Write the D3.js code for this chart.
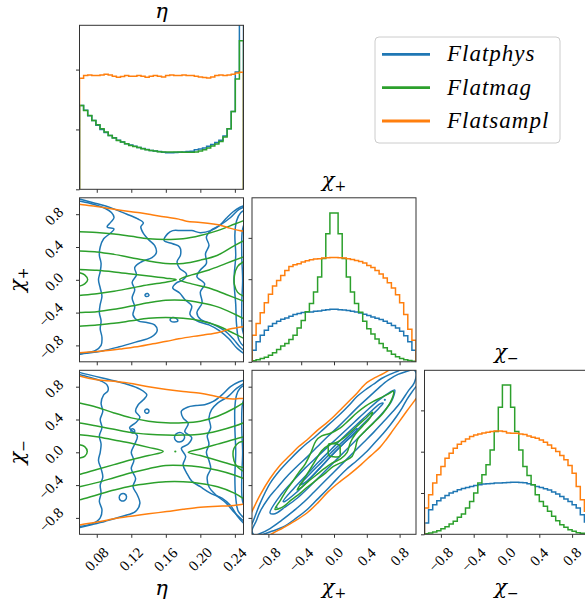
<!DOCTYPE html>
<html><head><meta charset="utf-8">
<script src="https://cdn.jsdelivr.net/npm/d3@7"></script>
<style>body{margin:0;background:#fff}svg{display:block}</style>
</head><body>
<svg id="c" width="585" height="605" xmlns="http://www.w3.org/2000/svg"></svg>
<script>
// ---------------- data ----------------
const seriesNames = ["Flatphys", "Flatmag", "Flatsampl"];
const seriesColors = ["#1f77b4", "#2ca02c", "#ff7f0e"];

const etaTicks = [0.08, 0.12, 0.16, 0.20, 0.24];
const etaTickLabels = ["0.08", "0.12", "0.16", "0.20", "0.24"];
const chiTicks = [-0.8, -0.4, 0.0, 0.4, 0.8];
const chiTickLabels = ["\u22120.8", "\u22120.4", "0.0", "0.4", "0.8"];
const etaHistTicks = [0, 1, 2];
const chiHistTicks = [0, 1, 2, 3];

// histograms (40 bins each)
const etaBlue = [1.40,1.32,1.23,1.15,1.07,1.00,0.95,0.90,0.86,0.82,0.79,0.76,0.74,0.72,0.70,0.68,0.665,0.65,0.64,0.63,
  0.618,0.612,0.612,0.615,0.62,0.625,0.63,0.635,0.66,0.672,0.69,0.72,0.75,0.78,0.82,0.89,1.01,1.30,1.96,3.30];
const etaGreen = [1.40,1.317,1.233,1.15,1.078,1.011,0.956,0.90,0.856,0.817,0.789,0.761,0.733,0.717,0.70,0.678,0.661,0.65,0.639,0.628,
  0.622,0.622,0.622,0.622,0.622,0.617,0.617,0.617,0.622,0.639,0.661,0.689,0.722,0.756,0.80,0.872,1.011,1.30,1.844,2.483];
const etaOrange = [1.856,1.90,1.911,1.90,1.90,1.911,1.922,1.911,1.889,1.872,1.883,1.90,1.889,1.889,1.90,1.889,1.872,1.889,1.90,1.889,
  1.878,1.90,1.911,1.90,1.90,1.911,1.90,1.90,1.889,1.878,1.867,1.861,1.878,1.90,1.911,1.90,1.911,1.922,1.944,1.956];

const chiPBlue = [0.282,0.483,0.644,0.764,0.861,0.925,0.981,1.03,1.062,1.102,1.142,1.167,1.191,1.207,1.207,1.223,1.231,1.247,1.263,1.271,
  1.271,1.263,1.255,1.239,1.223,1.207,1.183,1.15,1.118,1.086,1.054,1.022,0.981,0.933,0.877,0.82,0.74,0.628,0.483,0.282];
const chiPGreen = [0.025,0.05,0.08,0.11,0.16,0.22,0.30,0.38,0.44,0.54,0.64,0.82,1.0,1.21,1.41,1.69,2.05,2.5,3.1,3.6,
  3.6,3.1,2.5,2.05,1.69,1.41,1.2,0.98,0.8,0.67,0.55,0.44,0.34,0.26,0.18,0.12,0.08,0.05,0.03,0.015];
const chiPOrange = [0.644,0.925,1.19,1.432,1.633,1.834,1.971,2.092,2.212,2.309,2.349,2.373,2.414,2.446,2.47,2.486,2.494,2.51,2.518,2.526,
  2.526,2.518,2.51,2.494,2.478,2.454,2.43,2.389,2.333,2.285,2.212,2.124,2.027,1.915,1.786,1.625,1.432,1.142,0.788,0.523];

const chiMBlue = [0.274,0.595,0.716,0.813,0.877,0.941,0.998,1.038,1.078,1.11,1.134,1.158,1.183,1.199,1.215,1.223,1.231,1.239,1.239,1.247,
  1.255,1.263,1.263,1.255,1.247,1.223,1.199,1.158,1.134,1.102,1.07,1.022,0.973,0.917,0.853,0.796,0.716,0.636,0.475,0.298];
const chiMGreen = [0.016,0.032,0.056,0.088,0.137,0.185,0.249,0.314,0.41,0.491,0.636,0.796,0.998,1.239,1.44,1.681,2.043,2.486,3.073,3.612,
  3.612,3.073,2.486,2.043,1.641,1.424,1.199,0.957,0.796,0.676,0.555,0.434,0.33,0.233,0.169,0.113,0.072,0.04,0.024,0.008];
const chiMOrange = [0.636,0.957,1.239,1.44,1.641,1.842,1.963,2.084,2.18,2.245,2.309,2.365,2.405,2.43,2.454,2.47,2.486,2.502,2.502,2.486,
  2.454,2.446,2.446,2.43,2.414,2.381,2.349,2.325,2.285,2.228,2.164,2.084,2.003,1.907,1.802,1.665,1.48,1.158,0.837,0.555];

// contour lines, (eta, chi+) panel
const orangeEtaChiP = [
  [[0.055,0.935],[0.06,0.92],[0.08,0.895],[0.10,0.86],[0.12,0.83],[0.13,0.817],[0.145,0.79],[0.16,0.765],[0.175,0.74],[0.184,0.715],[0.20,0.70],[0.215,0.68],[0.225,0.66],[0.234,0.63],[0.245,0.60],[0.255,0.585]],
  [[0.055,-0.90],[0.06,-0.89],[0.08,-0.875],[0.0955,-0.86],[0.11,-0.84],[0.13,-0.81],[0.145,-0.78],[0.161,-0.75],[0.175,-0.72],[0.192,-0.69],[0.205,-0.67],[0.215,-0.655],[0.225,-0.63],[0.234,-0.60],[0.245,-0.58],[0.255,-0.56]]
];
const blueEtaChiP = [
  [[0.055,1.0],[0.06,0.985],[0.076,0.94],[0.096,0.88],[0.103,0.85],[0.115,0.80],[0.127,0.745],[0.134,0.695],[0.131,0.646],[0.134,0.565],[0.14,0.49],[0.147,0.42],[0.149,0.33],[0.144,0.27],[0.132,0.22],[0.124,0.15],[0.126,0.06],[0.121,-0.03],[0.124,-0.12],[0.121,-0.22],[0.124,-0.33],[0.122,-0.43],[0.128,-0.50],[0.138,-0.52],[0.147,-0.55],[0.15,-0.62],[0.143,-0.70],[0.125,-0.76],[0.105,-0.82],[0.085,-0.87],[0.065,-0.90],[0.055,-0.92]],
  [[0.255,0.92],[0.246,0.885],[0.238,0.83],[0.23,0.75],[0.222,0.66],[0.212,0.60],[0.20,0.575],[0.19,0.60],[0.178,0.60],[0.168,0.60],[0.162,0.56],[0.158,0.48],[0.168,0.44],[0.176,0.40],[0.177,0.30],[0.173,0.22],[0.176,0.14],[0.184,0.07],[0.18,0.0],[0.172,-0.04],[0.168,-0.10],[0.176,-0.16],[0.182,-0.24],[0.19,-0.32],[0.188,-0.42],[0.196,-0.50],[0.21,-0.55],[0.222,-0.62],[0.233,-0.72],[0.243,-0.84],[0.255,-0.93]],
  [[0.055,0.97],[0.06,0.96],[0.075,0.925],[0.09,0.87],[0.097,0.82],[0.10,0.76],[0.096,0.70],[0.092,0.645],[0.10,0.62],[0.096,0.57],[0.088,0.50],[0.084,0.40],[0.083,0.30],[0.085,0.20],[0.084,0.10],[0.082,0.0],[0.084,-0.10],[0.086,-0.20],[0.084,-0.30],[0.083,-0.40],[0.085,-0.50],[0.084,-0.60],[0.086,-0.70],[0.085,-0.80],[0.078,-0.865],[0.065,-0.895],[0.055,-0.91]],
  [[0.255,0.90],[0.245,0.86],[0.235,0.76],[0.222,0.66],[0.212,0.60],[0.207,0.52],[0.21,0.42],[0.206,0.32],[0.207,0.20],[0.20,0.12],[0.196,0.04],[0.205,-0.05],[0.20,-0.15],[0.202,-0.28],[0.196,-0.40],[0.20,-0.48],[0.214,-0.54],[0.228,-0.62],[0.238,-0.72],[0.246,-0.82],[0.255,-0.90]],
  [[0.255,0.87],[0.247,0.82],[0.242,0.72],[0.24,0.55],[0.241,0.30],[0.239,0.0],[0.241,-0.30],[0.242,-0.55],[0.245,-0.74],[0.255,-0.86]],
  [[0.255,0.78],[0.249,0.62],[0.248,0.30],[0.249,0.0],[0.248,-0.30],[0.249,-0.62],[0.255,-0.78]]
];
const blueEtaChiPLoops = [
  [[0.1365,-0.175],[0.139,-0.168],[0.1405,-0.19],[0.138,-0.205],[0.136,-0.195]],
  [[0.165,-0.48],[0.168,-0.46],[0.172,-0.47],[0.174,-0.50],[0.17,-0.515],[0.166,-0.505]]
];
const greenEtaChiP = [
  [[0.055,0.59],[0.06,0.585],[0.08,0.578],[0.10,0.56],[0.12,0.53],[0.14,0.50],[0.16,0.49],[0.18,0.50],[0.20,0.54],[0.22,0.60],[0.24,0.68],[0.255,0.74]],
  [[0.055,-0.57],[0.06,-0.565],[0.08,-0.55],[0.10,-0.53],[0.12,-0.50],[0.14,-0.47],[0.16,-0.46],[0.18,-0.47],[0.20,-0.50],[0.22,-0.56],[0.24,-0.66],[0.255,-0.74]],
  [[0.055,0.355],[0.06,0.35],[0.08,0.34],[0.10,0.31],[0.12,0.27],[0.14,0.23],[0.16,0.20],[0.18,0.20],[0.20,0.24],[0.22,0.30],[0.24,0.42],[0.255,0.50]],
  [[0.055,-0.405],[0.06,-0.40],[0.08,-0.39],[0.10,-0.36],[0.12,-0.32],[0.14,-0.28],[0.16,-0.25],[0.18,-0.25],[0.20,-0.28],[0.22,-0.33],[0.24,-0.42],[0.255,-0.50]],
  [[0.055,0.13],[0.06,0.126],[0.08,0.115],[0.10,0.095],[0.12,0.07],[0.14,0.045],[0.16,0.02],[0.172,0.0],[0.16,-0.03],[0.14,-0.06],[0.12,-0.10],[0.10,-0.14],[0.08,-0.17],[0.06,-0.19],[0.055,-0.195]],
  [[0.255,0.30],[0.25,0.28],[0.23,0.20],[0.21,0.12],[0.19,0.06],[0.176,0.0],[0.19,-0.05],[0.21,-0.10],[0.23,-0.18],[0.25,-0.26],[0.255,-0.28]],
  [[0.055,0.09],[0.06,0.085],[0.066,0.06],[0.0695,0.0],[0.066,-0.05],[0.06,-0.077],[0.055,-0.08]],
  [[0.255,0.24],[0.25,0.22],[0.243,0.16],[0.2395,0.05],[0.2395,-0.06],[0.243,-0.15],[0.25,-0.20],[0.255,-0.22]]
];

// contour lines, (eta, chi-) panel
const orangeEtaChiM = [
  [[0.055,0.95],[0.06,0.93],[0.08,0.885],[0.10,0.865],[0.122,0.835],[0.14,0.80],[0.161,0.765],[0.18,0.74],[0.20,0.72],[0.215,0.69],[0.23,0.655],[0.238,0.65],[0.245,0.655],[0.255,0.66]],
  [[0.055,-0.90],[0.06,-0.886],[0.084,-0.845],[0.10,-0.81],[0.122,-0.776],[0.14,-0.75],[0.161,-0.723],[0.18,-0.695],[0.20,-0.67],[0.22,-0.657],[0.231,-0.654],[0.245,-0.64],[0.255,-0.62]]
];
const blueEtaChiM = [
  [[0.055,0.99],[0.06,0.975],[0.075,0.935],[0.095,0.885],[0.115,0.83],[0.13,0.77],[0.138,0.70],[0.134,0.64],[0.128,0.58],[0.125,0.50],[0.13,0.43],[0.125,0.36],[0.118,0.30],[0.127,0.20],[0.124,0.10],[0.12,0.0],[0.123,-0.10],[0.12,-0.20],[0.125,-0.32],[0.122,-0.42],[0.127,-0.52],[0.13,-0.62],[0.125,-0.72],[0.11,-0.78],[0.09,-0.84],[0.075,-0.88],[0.055,-0.93]],
  [[0.255,0.89],[0.245,0.86],[0.235,0.80],[0.225,0.70],[0.215,0.62],[0.205,0.58],[0.195,0.57],[0.185,0.55],[0.178,0.50],[0.18,0.42],[0.186,0.35],[0.182,0.25],[0.19,0.18],[0.186,0.10],[0.178,0.05],[0.183,-0.05],[0.18,-0.15],[0.184,-0.25],[0.19,-0.35],[0.20,-0.42],[0.212,-0.50],[0.225,-0.56],[0.235,-0.65],[0.243,-0.78],[0.255,-0.92]],
  [[0.055,0.96],[0.07,0.92],[0.085,0.87],[0.092,0.82],[0.093,0.75],[0.088,0.70],[0.085,0.60],[0.087,0.50],[0.084,0.40],[0.086,0.30],[0.083,0.20],[0.085,0.10],[0.084,0.0],[0.082,-0.10],[0.085,-0.20],[0.087,-0.30],[0.084,-0.40],[0.085,-0.50],[0.083,-0.60],[0.086,-0.70],[0.084,-0.80],[0.075,-0.87],[0.055,-0.91]],
  [[0.255,0.87],[0.242,0.78],[0.232,0.68],[0.22,0.60],[0.213,0.52],[0.21,0.42],[0.212,0.30],[0.208,0.20],[0.21,0.10],[0.207,0.0],[0.21,-0.10],[0.212,-0.20],[0.208,-0.30],[0.21,-0.42],[0.218,-0.52],[0.23,-0.62],[0.24,-0.74],[0.255,-0.88]],
  [[0.255,0.85],[0.246,0.78],[0.242,0.70],[0.24,0.55],[0.24,0.30],[0.241,0.0],[0.24,-0.30],[0.241,-0.55],[0.244,-0.72],[0.255,-0.84]],
  [[0.255,0.76],[0.249,0.60],[0.248,0.30],[0.249,0.0],[0.248,-0.30],[0.249,-0.60],[0.255,-0.74]]
];
const blueEtaChiMLoops = [
  [[0.1355,0.50],[0.1365,0.52],[0.139,0.525],[0.1405,0.505],[0.1395,0.48],[0.137,0.478]],
  [[0.1195,0.26],[0.1205,0.285],[0.123,0.28],[0.124,0.255],[0.1225,0.235],[0.1205,0.24]],
  [[0.17,0.18],[0.172,0.225],[0.1775,0.24],[0.1815,0.205],[0.1805,0.15],[0.1755,0.125],[0.1715,0.145]],
  [[0.106,-0.55],[0.108,-0.51],[0.112,-0.505],[0.1145,-0.54],[0.1125,-0.585],[0.108,-0.59]]
];
const greenEtaChiM = [
  [[0.055,0.61],[0.06,0.60],[0.08,0.55],[0.10,0.48],[0.12,0.42],[0.14,0.38],[0.16,0.36],[0.18,0.36],[0.20,0.38],[0.22,0.44],[0.24,0.54],[0.255,0.64]],
  [[0.055,-0.59],[0.06,-0.58],[0.08,-0.52],[0.10,-0.46],[0.12,-0.41],[0.14,-0.38],[0.16,-0.36],[0.18,-0.36],[0.20,-0.38],[0.22,-0.42],[0.24,-0.50],[0.255,-0.60]],
  [[0.055,0.36],[0.06,0.356],[0.08,0.32],[0.10,0.28],[0.12,0.24],[0.14,0.22],[0.16,0.21],[0.18,0.21],[0.20,0.22],[0.22,0.26],[0.24,0.32],[0.255,0.38]],
  [[0.055,-0.43],[0.06,-0.42],[0.08,-0.37],[0.10,-0.31],[0.12,-0.25],[0.14,-0.20],[0.16,-0.16],[0.18,-0.16],[0.20,-0.18],[0.22,-0.22],[0.24,-0.28],[0.255,-0.34]],
  [[0.055,0.215],[0.06,0.214],[0.08,0.19],[0.10,0.15],[0.12,0.11],[0.14,0.06],[0.157,0.01],[0.14,-0.04],[0.12,-0.09],[0.10,-0.15],[0.08,-0.21],[0.06,-0.27],[0.055,-0.28]],
  [[0.255,0.20],[0.24,0.16],[0.22,0.10],[0.20,0.04],[0.186,0.0],[0.20,-0.04],[0.22,-0.10],[0.24,-0.16],[0.255,-0.20]],
  [[0.055,0.09],[0.06,0.092],[0.066,0.07],[0.069,0.01],[0.066,-0.05],[0.06,-0.07],[0.055,-0.07]],
  [[0.255,0.14],[0.245,0.12],[0.239,0.05],[0.238,-0.05],[0.241,-0.15],[0.248,-0.22],[0.255,-0.24]]
];
const greenEtaChiMDots = [[0.171,0.01]];

// contour lines, (chi+, chi-) panel
const orangeChiChi = [
  [[-1.05,-0.82],[-1.0,-0.72],[-0.9,-0.52],[-0.78,-0.32],[-0.66,-0.16],[-0.54,-0.04],[-0.43,0.07],[-0.33,0.15],[-0.2,0.27],[-0.1,0.35],[0.0,0.44],[0.1,0.54],[0.2,0.64],[0.28,0.72],[0.34,0.79],[0.4,0.85],[0.5,0.91],[0.6,0.96],[0.7,1.02]],
  [[1.05,0.72],[0.96,0.6],[0.886,0.5],[0.8,0.38],[0.72,0.27],[0.64,0.16],[0.56,0.06],[0.45,-0.04],[0.33,-0.15],[0.2,-0.26],[0.07,-0.36],[-0.07,-0.48],[-0.2,-0.62],[-0.33,-0.74],[-0.48,-0.84],[-0.62,-0.92],[-0.75,-0.99],[-0.85,-1.05]]
];
const blueChiChi = [
  [[-1.05,-0.95],[-1.0,-0.87],[-0.9,-0.62],[-0.78,-0.38],[-0.66,-0.22],[-0.54,-0.09],[-0.43,0.02],[-0.33,0.11],[-0.23,0.19],[-0.13,0.28],[-0.03,0.37],[0.07,0.46],[0.18,0.57],[0.28,0.68],[0.38,0.76],[0.48,0.83],[0.58,0.9],[0.68,0.95],[0.8,1.0],[0.9,1.05]],
  [[1.05,0.85],[1.0,0.8],[0.94,0.72],[0.886,0.64],[0.83,0.54],[0.764,0.44],[0.69,0.34],[0.6,0.23],[0.5,0.12],[0.4,0.01],[0.28,-0.1],[0.15,-0.21],[0.03,-0.33],[-0.09,-0.46],[-0.21,-0.58],[-0.33,-0.7],[-0.47,-0.81],[-0.62,-0.91],[-0.75,-0.96],[-0.86,-1.0],[-0.95,-1.05]]
];
const blueChiChiLoops = [
  [[-1.0,-0.96],[-0.95,-0.84],[-0.9,-0.72],[-0.8,-0.56],[-0.7,-0.44],[-0.58,-0.3],[-0.45,-0.17],[-0.32,-0.05],[-0.2,0.07],[-0.08,0.19],[0.05,0.31],[0.18,0.44],[0.3,0.56],[0.42,0.67],[0.54,0.78],[0.66,0.88],[0.78,0.95],[0.9,0.99],[0.97,1.01],[1.0,0.97],[0.98,0.85],[0.9,0.74],[0.82,0.62],[0.72,0.5],[0.6,0.37],[0.48,0.24],[0.36,0.12],[0.24,0.0],[0.12,-0.12],[0.0,-0.24],[-0.12,-0.36],[-0.24,-0.48],[-0.36,-0.6],[-0.5,-0.72],[-0.64,-0.83],[-0.78,-0.93],[-0.9,-0.99],[-0.97,-1.01]],
  [[-0.78,-0.74],[-0.65,-0.52],[-0.5,-0.35],[-0.35,-0.19],[-0.2,-0.05],[-0.05,0.09],[0.1,0.23],[0.25,0.37],[0.4,0.51],[0.55,0.64],[0.68,0.73],[0.74,0.76],[0.7,0.62],[0.6,0.49],[0.45,0.33],[0.3,0.18],[0.15,0.03],[0.0,-0.12],[-0.15,-0.27],[-0.3,-0.42],[-0.45,-0.56],[-0.6,-0.67],[-0.72,-0.75]],
  [[-0.62,-0.6],[-0.48,-0.43],[-0.33,-0.27],[-0.18,-0.11],[-0.03,0.04],[0.12,0.19],[0.27,0.33],[0.42,0.47],[0.56,0.59],[0.6,0.6],[0.55,0.54],[0.42,0.41],[0.28,0.27],[0.13,0.12],[-0.02,-0.03],[-0.17,-0.19],[-0.32,-0.35],[-0.47,-0.5],[-0.6,-0.6]],
  [[-0.42,-0.4],[-0.3,-0.27],[-0.15,-0.12],[0.0,0.03],[0.15,0.17],[0.28,0.29],[0.27,0.25],[0.12,0.11],[-0.03,-0.04],[-0.18,-0.2],[-0.33,-0.35]]
];
const blueChiChiDots = [[-0.7,-0.67],[0.62,0.64]];
const greenChiChiLoops = [
  [[-0.72,-0.695],[-0.65,-0.58],[-0.577,-0.458],[-0.5,-0.35],[-0.435,-0.254],[-0.35,-0.14],[-0.28,0.0],[-0.22,0.14],[-0.15,0.2],[-0.05,0.23],[0.073,0.295],[0.18,0.39],[0.276,0.479],[0.38,0.56],[0.48,0.621],[0.58,0.67],[0.66,0.71],[0.724,0.743],[0.703,0.642],[0.6,0.479],[0.48,0.356],[0.38,0.26],[0.29,0.16],[0.26,0.05],[0.22,-0.05],[0.12,-0.11],[-0.008,-0.173],[-0.1,-0.25],[-0.211,-0.336],[-0.32,-0.42],[-0.415,-0.5],[-0.52,-0.58],[-0.618,-0.662]],
  [[-0.45,-0.46],[-0.38,-0.35],[-0.3,-0.22],[-0.22,-0.09],[-0.15,0.02],[-0.06,0.09],[0.05,0.13],[0.15,0.2],[0.26,0.3],[0.37,0.4],[0.47,0.49],[0.44,0.42],[0.35,0.32],[0.26,0.22],[0.2,0.12],[0.16,0.0],[0.08,-0.08],[-0.02,-0.13],[-0.12,-0.2],[-0.22,-0.28],[-0.32,-0.36],[-0.4,-0.43]],
  [[-0.065,0.1],[0.0,0.105],[0.07,0.085],[0.075,0.02],[0.07,-0.05],[0.0,-0.055],[-0.065,-0.04],[-0.07,0.03]]
];

// ---------------- drawing ----------------
const [BLUE, GREEN, ORANGE] = seriesColors;
const svg = d3.select("#c");
const S = 164;
const colX = [79.5, 252, 424.5];
const rowY = [25.3, 197.8, 370.3];
const LW = 1.5;
const SERIF = "'Liberation Serif', 'Times New Roman', serif";
const GREEKF = "'DejaVu Serif', serif";
let clipN = 0;

function tickText(sel) {
  return sel.attr("font-family", SERIF).attr("font-size", 15).attr("fill", "#000");
}
function greekText(sel) {
  return sel.attr("font-family", GREEKF).attr("font-style", "italic").attr("font-size", 21).attr("fill", "#000");
}

function makePanel(c, r) {
  const g = svg.append("g").attr("transform", `translate(${colX[c]},${rowY[r]})`);
  const id = "clip" + (clipN++);
  g.append("clipPath").attr("id", id).append("rect").attr("width", S).attr("height", S);
  const plot = g.append("g").attr("clip-path", `url(#${id})`);
  return { g, plot, c, r };
}
function frame(p) {
  p.g.append("rect").attr("width", S).attr("height", S)
    .attr("fill", "none").attr("stroke", "#333").attr("stroke-width", 1);
}
function axisBottom(p, scale, ticks) {
  const ax = p.g.append("g").attr("transform", `translate(0,${S})`)
    .call(d3.axisBottom(scale).tickValues(ticks).tickSize(3.5).tickFormat(""));
  ax.select(".domain").remove();
  ax.selectAll("line").attr("stroke", "#333");
}
function axisLeft(p, scale, ticks) {
  const ax = p.g.append("g")
    .call(d3.axisLeft(scale).tickValues(ticks).tickSize(3.5).tickFormat(""));
  ax.select(".domain").remove();
  ax.selectAll("line").attr("stroke", "#333");
}
function xLabels(p, scale, ticks, labels) {
  ticks.forEach((t, i) => {
    const ax = colX[p.c] + scale(t);
    const el = tickText(svg.append("text")).text(labels[i])
      .attr("text-anchor", "middle").attr("dominant-baseline", "central")
      .attr("transform", `translate(${ax},${rowY[p.r] + S + 25}) rotate(-45)`);
    const r = el.node().getBoundingClientRect();
    const dx = ax - (r.left + r.right) / 2;
    const dy = (rowY[p.r] + S + 10) - r.top;
    el.attr("transform", `translate(${ax + dx},${rowY[p.r] + S + 25 + dy}) rotate(-45)`);
  });
}
function yLabels(p, scale, ticks, labels) {
  ticks.forEach((t, i) => {
    const ay = rowY[p.r] + scale(t);
    const el = tickText(svg.append("text")).text(labels[i])
      .attr("text-anchor", "middle").attr("dominant-baseline", "central")
      .attr("transform", `translate(${colX[p.c] - 30},${ay}) rotate(-45)`);
    const r = el.node().getBoundingClientRect();
    const dx = (colX[p.c] - 13) - r.right;
    const dy = (ay + 2) - (r.top + r.bottom) / 2;
    el.attr("transform", `translate(${colX[p.c] - 30 + dx},${ay + dy}) rotate(-45)`);
  });
}
function hist(p, vals, lo, hi, xs, ys, color) {
  const n = vals.length, w = (hi - lo) / n;
  const pts = [[lo, 0]];
  vals.forEach((v, i) => { pts.push([lo + i * w, v]); pts.push([lo + (i + 1) * w, v]); });
  pts.push([hi, 0]);
  p.plot.append("path").attr("d", d3.line().x(d => xs(d[0])).y(d => ys(d[1]))(pts))
    .attr("fill", "none").attr("stroke", color).attr("stroke-width", LW).attr("stroke-linejoin", "miter");
}
function lines(p, list, xs, ys, color, closed) {
  const gen = d3.line().x(d => xs(d[0])).y(d => ys(d[1]))
    .curve(closed ? d3.curveCatmullRomClosed.alpha(0.5) : d3.curveCatmullRom.alpha(0.5));
  p.plot.selectAll(null).data(list).join("path").attr("d", gen)
    .attr("fill", "none").attr("stroke", color).attr("stroke-width", LW).attr("stroke-linejoin", "round");
}
function dots(p, list, xs, ys, color) {
  p.plot.selectAll(null).data(list).join("circle")
    .attr("cx", d => xs(d[0])).attr("cy", d => ys(d[1])).attr("r", 1.1).attr("fill", color);
}

const etaX = d3.scaleLinear([0.06, 0.25], [0, S]);
const chiX = d3.scaleLinear([-1, 1], [0, S]);
const chiY = d3.scaleLinear([-1, 1], [S, 0]);
const hEta = d3.scaleLinear([0, 2.74], [S, 0]);
const hChi = d3.scaleLinear([0, 3.97], [S, 0]);

// (0,0) eta histogram
const p00 = makePanel(0, 0);
hist(p00, etaBlue, 0.06, 0.25, etaX, hEta, BLUE);
hist(p00, etaGreen, 0.06, 0.25, etaX, hEta, GREEN);
hist(p00, etaOrange, 0.06, 0.25, etaX, hEta, ORANGE);
frame(p00); axisBottom(p00, etaX, etaTicks); axisLeft(p00, hEta, etaHistTicks);

// (0,1) chi+ vs eta
const p01 = makePanel(0, 1);
lines(p01, blueEtaChiP, etaX, chiY, BLUE, false);
lines(p01, blueEtaChiPLoops, etaX, chiY, BLUE, true);
lines(p01, greenEtaChiP, etaX, chiY, GREEN, false);
lines(p01, orangeEtaChiP, etaX, chiY, ORANGE, false);
frame(p01); axisBottom(p01, etaX, etaTicks); axisLeft(p01, chiY, chiTicks);
yLabels(p01, chiY, chiTicks, chiTickLabels);

// (0,2) chi- vs eta
const p02 = makePanel(0, 2);
lines(p02, blueEtaChiM, etaX, chiY, BLUE, false);
lines(p02, blueEtaChiMLoops, etaX, chiY, BLUE, true);
lines(p02, greenEtaChiM, etaX, chiY, GREEN, false);
dots(p02, greenEtaChiMDots, etaX, chiY, GREEN);
lines(p02, orangeEtaChiM, etaX, chiY, ORANGE, false);
frame(p02); axisBottom(p02, etaX, etaTicks); axisLeft(p02, chiY, chiTicks);
yLabels(p02, chiY, chiTicks, chiTickLabels);
xLabels(p02, etaX, etaTicks, etaTickLabels);

// (1,1) chi+ histogram
const p11 = makePanel(1, 1);
hist(p11, chiPBlue, -1, 1, chiX, hChi, BLUE);
hist(p11, chiPGreen, -1, 1, chiX, hChi, GREEN);
hist(p11, chiPOrange, -1, 1, chiX, hChi, ORANGE);
frame(p11); axisBottom(p11, chiX, chiTicks); axisLeft(p11, hChi, chiHistTicks);

// (1,2) chi- vs chi+
const p12 = makePanel(1, 2);
lines(p12, blueChiChi, chiX, chiY, BLUE, false);
lines(p12, blueChiChiLoops, chiX, chiY, BLUE, true);
dots(p12, blueChiChiDots, chiX, chiY, BLUE);
lines(p12, greenChiChiLoops, chiX, chiY, GREEN, true);
lines(p12, orangeChiChi, chiX, chiY, ORANGE, false);
frame(p12); axisBottom(p12, chiX, chiTicks); axisLeft(p12, chiY, chiTicks);
xLabels(p12, chiX, chiTicks, chiTickLabels);

// (2,2) chi- histogram
const p22 = makePanel(2, 2);
hist(p22, chiMBlue, -1, 1, chiX, hChi, BLUE);
hist(p22, chiMGreen, -1, 1, chiX, hChi, GREEN);
hist(p22, chiMOrange, -1, 1, chiX, hChi, ORANGE);
frame(p22); axisBottom(p22, chiX, chiTicks); axisLeft(p22, hChi, chiHistTicks);
xLabels(p22, chiX, chiTicks, chiTickLabels);

// axis titles
function chiText(sel, sign) {
  greekText(sel);
  sel.append("tspan").text("\u03c7");
  sel.append("tspan").text(sign).attr("font-size", 14).attr("font-style", "normal").attr("dy", 4);
}
const cx = c => colX[c] + S / 2;
greekText(svg.append("text")).attr("x", cx(0)).attr("y", 18).attr("text-anchor", "middle").text("\u03b7");
chiText(svg.append("text").attr("x", cx(1)).attr("y", rowY[1] - 11).attr("text-anchor", "middle"), "+");
chiText(svg.append("text").attr("x", cx(2)).attr("y", rowY[2] - 11).attr("text-anchor", "middle"), "\u2212");
greekText(svg.append("text")).attr("x", cx(0)).attr("y", 595).attr("text-anchor", "middle").text("\u03b7");
chiText(svg.append("text").attr("x", cx(1)).attr("y", 594).attr("text-anchor", "middle"), "+");
chiText(svg.append("text").attr("x", cx(2)).attr("y", 594).attr("text-anchor", "middle"), "\u2212");
chiText(svg.append("text").attr("text-anchor", "middle")
  .attr("transform", `translate(24,${rowY[1] + S / 2}) rotate(-90)`), "+");
chiText(svg.append("text").attr("text-anchor", "middle")
  .attr("transform", `translate(24,${rowY[2] + S / 2}) rotate(-90)`), "\u2212");

// legend
const lg = svg.append("g").attr("transform", "translate(375,37)");
lg.append("rect").attr("width", 185).attr("height", 106).attr("rx", 4)
  .attr("fill", "#fff").attr("fill-opacity", 0.8).attr("stroke", "#ccc").attr("stroke-width", 1);
const ly = d3.scalePoint(seriesNames, [17.3, 84]);
seriesNames.forEach((nm, i) => {
  lg.append("line").attr("x1", 7).attr("x2", 55).attr("y1", ly(nm)).attr("y2", ly(nm))
    .attr("stroke", seriesColors[i]).attr("stroke-width", 2.8);
  lg.append("text").attr("x", 72).attr("y", ly(nm) + 7).text(nm)
    .attr("font-family", SERIF).attr("font-style", "italic").attr("font-size", 23)
    .attr("letter-spacing", 1).attr("fill", "#000");
});
</script></body></html>
